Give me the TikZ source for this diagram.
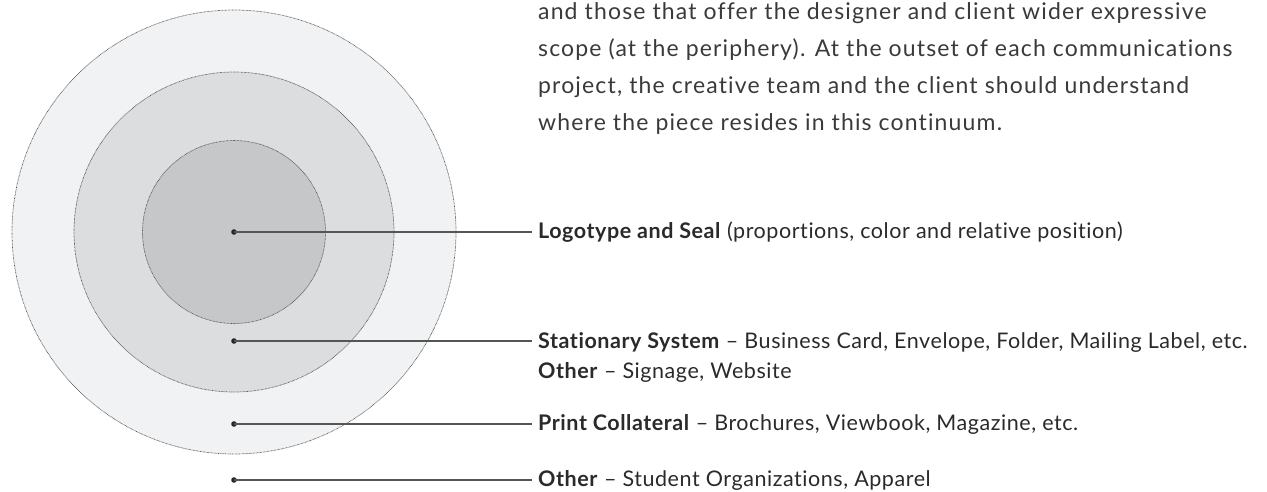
\documentclass[tikz,border=0pt]{standalone}
\usepackage{fontspec}
\setmainfont{Lato}
\newfontfamily\bodyfont{Lato}[LetterSpace=5.0,Ligatures={NoCommon}]
\newfontfamily\labelfont{Lato}[LetterSpace=2.6,Ligatures={NoCommon}]
\definecolor{ringA}{HTML}{F1F2F3}
\definecolor{ringB}{HTML}{DCDDDF}
\definecolor{ringC}{HTML}{C6C7C9}
\definecolor{ringline}{HTML}{555555}
\definecolor{leader}{HTML}{555555}
\definecolor{bodytext}{HTML}{3A3A3A}
\definecolor{labeltext}{HTML}{2A2A2A}
\begin{document}
\begin{tikzpicture}[x=1pt,y=-1pt,
  ring/.style={circle,draw=ringline,line width=0.7pt,dash pattern=on 0.7pt off 0.7pt,inner sep=0pt,outer sep=0pt},
  pin/.style={circle,fill=black!85,inner sep=0pt,minimum size=5.6pt},
  leaderline/.style={draw=leader,line width=1.3pt,shorten >=6pt},
  bodyline/.style={anchor=base west,inner sep=0pt,text=bodytext,font=\bodyfont\fontsize{23}{37}\selectfont},
  labelline/.style={anchor=base west,inner sep=0pt,text=labeltext,font=\labelfont\fontsize{21.5}{30}\selectfont}]
\useasboundingbox (0,0) rectangle (1267,491);

% concentric zones
\node[ring,fill=ringA,minimum size=444pt] (outer) at (234,232) {};
\node[ring,fill=ringB,minimum size=320pt] (middle) at (234,232) {};
\node[ring,fill=ringC,minimum size=183pt] (inner) at (234,232) {};

% explanatory paragraph
\node[bodyline] (p1) at (538,19) {and those that offer the designer and client wider expressive};
\node[bodyline] (p2) at (538,56) {scope (at the periphery). At the outset of each communications};
\node[bodyline] (p3) at (538,93) {project, the creative team and the client should understand};
\node[bodyline] (p4) at (538,130) {where the piece resides in this continuum.};

% labels
\node[labelline] (l1) at (538,238) {\textbf{Logotype and Seal} (proportions, color and relative position)};
\node[labelline] (l2) at (538,348) {\textbf{Stationary System} \textendash{} Business Card, Envelope, Folder, Mailing Label, etc.};
\node[labelline] (l2b) at (538,378) {\textbf{Other} \textendash{} Signage, Website};
\node[labelline] (l3) at (538,430) {\textbf{Print Collateral} \textendash{} Brochures, Viewbook, Magazine, etc.};
\node[labelline] (l4) at (538,486) {\textbf{Other} \textendash{} Student Organizations, Apparel};

% pins and leader lines
\node[pin] (d1) at (234,232) {};
\node[pin] (d2) at (234,341) {};
\node[pin] (d3) at (234,424) {};
\node[pin] (d4) at (234,480) {};
\draw[leaderline] (d1.center) -- (d1 -| l1.west);
\draw[leaderline] (d2.center) -- (d2 -| l2.west);
\draw[leaderline] (d3.center) -- (d3 -| l3.west);
\draw[leaderline] (d4.center) -- (d4 -| l4.west);
\end{tikzpicture}
\end{document}
